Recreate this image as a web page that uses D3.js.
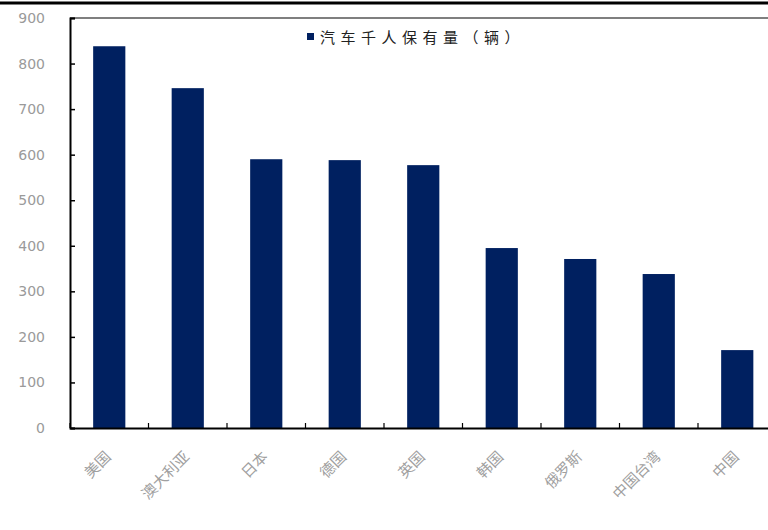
<!DOCTYPE html>
<html><head><meta charset="utf-8">
<script src="https://cdn.jsdelivr.net/npm/d3@7"></script>
<style>body{margin:0;background:#fff}svg{display:block}</style>
</head><body>
<svg id="c" width="768" height="530"></svg>
<script>
const categories = ["美国","澳大利亚","日本","德国","英国","韩国","俄罗斯","中国台湾","中国"];
const values = [838, 746, 590, 588, 577, 395, 371, 338, 171];
const yTicks = [0,100,200,300,400,500,600,700,800,900];
const seriesName = "汽车千人保有量（辆）";

const svg = d3.select("#c");
const mLeft = 70, mTop = 18, mBottom = 428, step = 78.5;
const x = d3.scaleBand().domain(categories).range([mLeft, mLeft + step*categories.length]).paddingInner(0.59).paddingOuter(0.295);
const y = d3.scaleLinear().domain([0,900]).range([mBottom, mTop]);
const font = "'Noto Sans CJK SC', 'Liberation Sans', sans-serif";

// top black rule
svg.append("line").attr("x1",0).attr("x2",768).attr("y1",3).attr("y2",3).attr("stroke","#000").attr("stroke-width",3);
// plot top border
svg.append("line").attr("x1",mLeft).attr("x2",768).attr("y1",mTop).attr("y2",mTop).attr("stroke","#555").attr("stroke-width",1.5);

// bars
svg.selectAll("rect.bar").data(values).join("rect").attr("class","bar")
  .attr("x",(d,i)=>x(categories[i])).attr("width",x.bandwidth())
  .attr("y",d=>y(d)).attr("height",d=>mBottom-y(d)).attr("fill","#002060");

// y axis
const ya = d3.axisLeft(y).tickValues(yTicks).tickSize(-5);
const gy = svg.append("g").attr("transform",`translate(${mLeft},0)`).call(ya);
gy.select(".domain").attr("stroke","#000").attr("stroke-width",2);
gy.selectAll(".tick line").attr("stroke","#000").attr("stroke-width",1.5);
gy.selectAll(".tick text").attr("fill","#9a9a9a").style("font-family","'DejaVu Sans', sans-serif").style("font-size","14px").attr("x",-25);

// x axis
const xa = d3.axisBottom(x).tickSize(0).tickFormat("");
const gx = svg.append("g").attr("transform",`translate(0,${mBottom})`).call(xa);
gx.select(".domain").attr("stroke","#000").attr("stroke-width",2);
const seps = d3.range(categories.length+1).map(i=>mLeft + i*step);
gx.selectAll("line.sep").data(seps).join("line").attr("class","sep")
  .attr("x1",d=>d).attr("x2",d=>d).attr("y1",0).attr("y2",-5).attr("stroke","#000").attr("stroke-width",1.2);

// x labels
svg.selectAll("text.xl").data(categories).join("text").attr("class","xl")
  .attr("transform",d=>`translate(${x(d)+x.bandwidth()/2-1},${mBottom+26}) rotate(-45)`)
  .attr("text-anchor","end").attr("dy","0.35em")
  .attr("fill","#a0a0a0").style("font-family",font).style("font-size","15px").text(d=>d);

// legend
svg.append("rect").attr("x",307).attr("y",33).attr("width",7).attr("height",7).attr("fill","#002060");
svg.append("text").attr("x",320).attr("y",43).attr("fill","#222").style("font-family",font).style("font-size","15px").style("letter-spacing","5.5px").text(seriesName);
</script>
</body></html>
